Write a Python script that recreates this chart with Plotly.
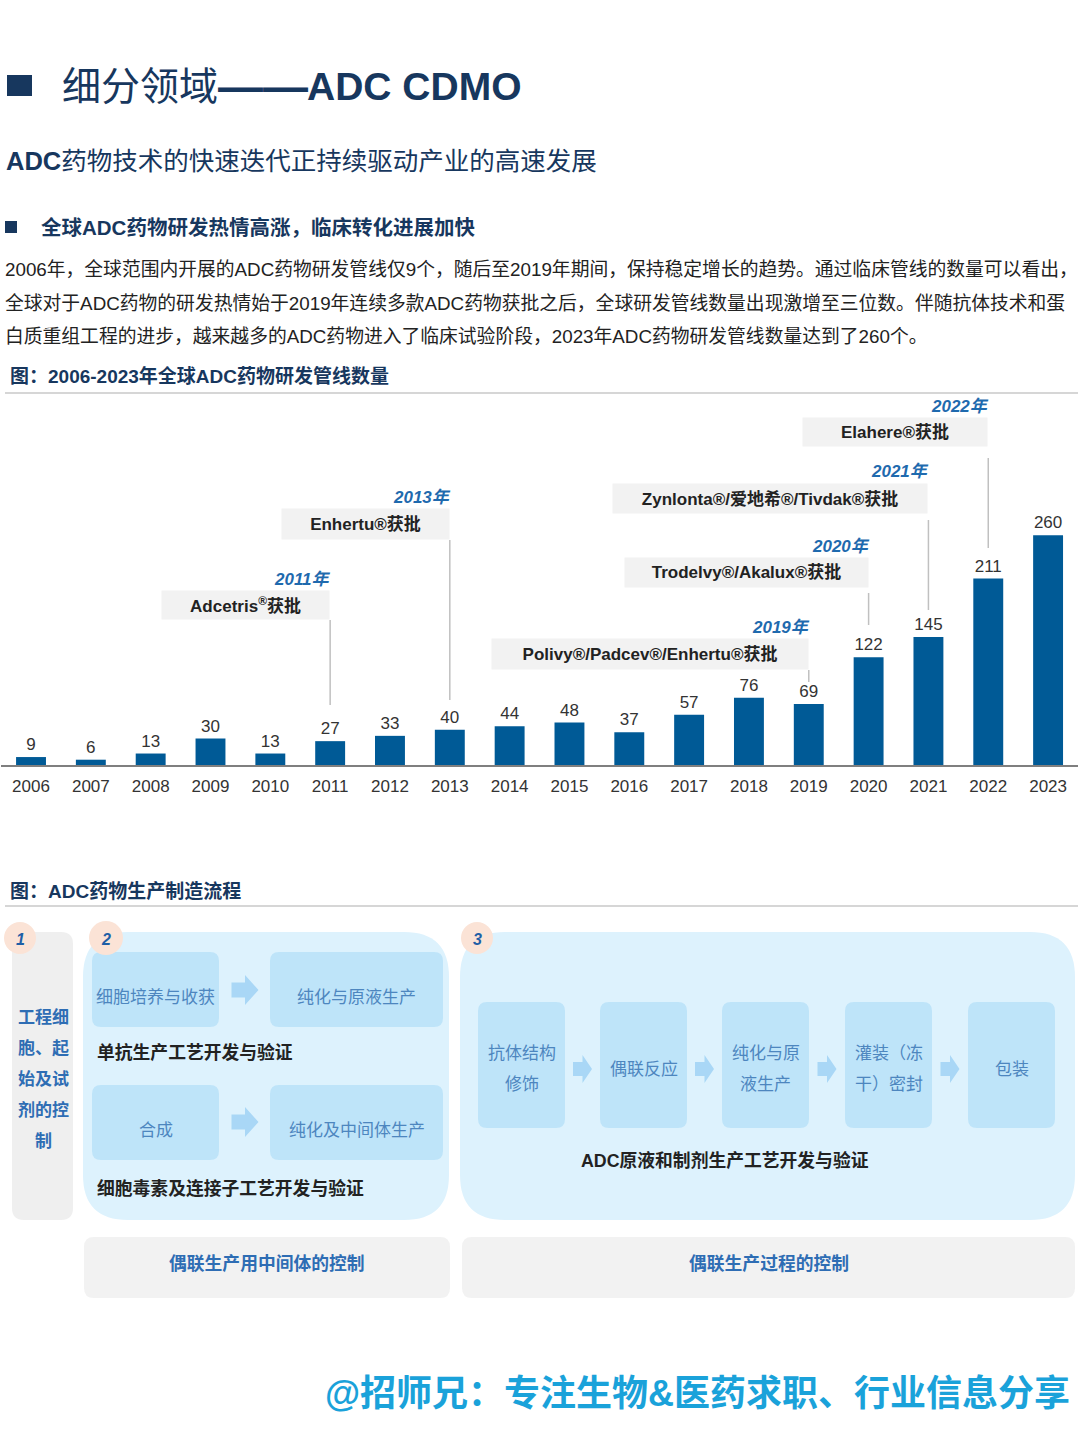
import plotly.graph_objects as go

W, H = 1080, 1440
FONT = "Liberation Sans, Noto Sans CJK SC, sans-serif"

# ---------------- data ----------------
years = ["2006", "2007", "2008", "2009", "2010", "2011", "2012", "2013", "2014",
         "2015", "2016", "2017", "2018", "2019", "2020", "2021", "2022", "2023"]
counts = [9, 6, 13, 30, 13, 27, 33, 40, 44, 48, 37, 57, 76, 69, 122, 145, 211, 260]

callout_years = ["2011", "2013", "2019", "2020", "2021", "2022"]
callout_texts = ["Adcetris<sup>®</sup>获批", "Enhertu®获批", "Polivy®/Padcev®/Enhertu®获批",
                 "Trodelvy®/Akalux®获批", "Zynlonta®/爱地希®/Tivdak®获批", "Elahere®获批"]

para_lines = [
    "2006年，全球范围内开展的ADC药物研发管线仅9个，随后至2019年期间，保持稳定增长的趋势。通过临床管线的数量可以看出，",
    "全球对于ADC药物的研发热情始于2019年连续多款ADC药物获批之后，全球研发管线数量出现激增至三位数。伴随抗体技术和蛋",
    "白质重组工程的进步，越来越多的ADC药物进入了临床试验阶段，2023年ADC药物研发管线数量达到了260个。",
]

stage1_lines = ["工程细", "胞、起", "始及试", "剂的控", "制"]
stage2_top = ["细胞培养与收获", "纯化与原液生产"]
stage2_top_caption = "单抗生产工艺开发与验证"
stage2_bottom = ["合成", "纯化及中间体生产"]
stage2_bottom_caption = "细胞毒素及连接子工艺开发与验证"
stage3_steps = [["抗体结构", "修饰"], ["偶联反应"], ["纯化与原", "液生产"], ["灌装（冻", "干）密封"], ["包装"]]
stage3_caption = "ADC原液和制剂生产工艺开发与验证"
control_texts = ["偶联生产用中间体的控制", "偶联生产过程的控制"]


# ---------------- helpers ----------------
def px(x):
    return x / W


def py(y):
    return 1 - y / H


shapes = []
annos = []


def text(x, y, s, size=17, color="#222", xanchor="left", yanchor="middle", **kw):
    annos.append(dict(x=px(x), y=py(y), xref="paper", yref="paper", text=s, showarrow=False,
                      xanchor=xanchor, yanchor=yanchor,
                      font=dict(family=FONT, size=size, color=color), **kw))


def pt(x, y):
    return f"{px(x):.5f},{py(y):.5f}"


def rrect(x0, y0, x1, y1, r, fill):
    p = (f"M {pt(x0 + r, y0)} L {pt(x1 - r, y0)} Q {pt(x1, y0)} {pt(x1, y0 + r)} "
         f"L {pt(x1, y1 - r)} Q {pt(x1, y1)} {pt(x1 - r, y1)} L {pt(x0 + r, y1)} "
         f"Q {pt(x0, y1)} {pt(x0, y1 - r)} L {pt(x0, y0 + r)} Q {pt(x0, y0)} {pt(x0 + r, y0)} Z")
    shapes.append(dict(type="path", xref="paper", yref="paper", path=p,
                       fillcolor=fill, line=dict(width=0), layer="below"))


def rect(x0, y0, x1, y1, fill):
    shapes.append(dict(type="rect", xref="paper", yref="paper", x0=px(x0), x1=px(x1),
                       y0=py(y1), y1=py(y0), fillcolor=fill, line=dict(width=0)))


def hline(x0, x1, y, color="#C8C8C8", width=1.5):
    shapes.append(dict(type="line", xref="paper", yref="paper", x0=px(x0), x1=px(x1),
                       y0=py(y), y1=py(y), line=dict(color=color, width=width)))


def arrow(cx, cy, w, h, fill="#A9D7F6"):
    x0, xm, x1 = cx - w / 2, cx, cx + w / 2
    p = (f"M {pt(x0, cy - h / 4)} L {pt(xm, cy - h / 4)} L {pt(xm, cy - h / 2)} L {pt(x1, cy)} "
         f"L {pt(xm, cy + h / 2)} L {pt(xm, cy + h / 4)} L {pt(x0, cy + h / 4)} Z")
    shapes.append(dict(type="path", xref="paper", yref="paper", path=p,
                       fillcolor=fill, line=dict(width=0)))


def circle(cx, cy, r, label):
    shapes.append(dict(type="circle", xref="paper", yref="paper", x0=px(cx - r), x1=px(cx + r),
                       y0=py(cy + r), y1=py(cy - r), fillcolor="#FBE3D6", line=dict(width=0)))
    text(cx, cy + 1, f"<b><i>{label}</i></b>", size=16, color="#1F5FA6", xanchor="center")


# ---------------- header texts ----------------
rect(7, 75, 32, 96, "#17375E")
text(60, 86, "细分领域", size=39, color="#17375E")
text(216, 86, "<b>——</b>", size=45, color="#17375E")
text(523, 86, "<b>ADC CDMO</b>", size=39, color="#17375E", xanchor="right")
text(4, 161, "<b>ADC</b>药物技术的快速迭代正持续驱动产业的高速发展", size=25.5, color="#17375E")
rect(5, 221, 17, 233, "#17375E")
text(39, 227, "<b>全球ADC药物研发热情高涨，临床转化进展加快</b>", size=20.5, color="#17375E")
for i, line in enumerate(para_lines):
    text(3, 269 + 34 * i, line, size=18.8, color="#222")
text(8, 376, "<b>图：2006-2023年全球ADC药物研发管线数量</b>", size=19, color="#17375E")
hline(5, 1078, 393)

# ---------------- bar chart ----------------
fig = go.Figure(go.Bar(
    x=years, y=counts, width=0.5, marker=dict(color="#005A96", line=dict(width=0)),
    text=counts, textposition="outside", cliponaxis=False,
    textfont=dict(family=FONT, size=17, color="#333"), hoverinfo="skip"))

# callouts (box layout positions in page pixels)
box_top = [590, 508, 638, 557, 483, 417]
box_w = [167, 167, 316, 243, 314, 184]
box_h = [28, 30, 30, 29, 29, 28]
line_y = [(620, 705), (540, 700), (670, 682), (593, 625), (520, 610), (458, 548)]
for yr, label, bt, bw, bh, (l0, l1) in zip(callout_years, callout_texts, box_top, box_w, box_h, line_y):
    idx = years.index(yr)
    annos.append(dict(x=idx, y=py(bt), xref="x", yref="paper", xanchor="right", yanchor="top",
                      text=f"<b>{label}</b>", showarrow=False, width=bw, height=bh, bgcolor="#F2F2F2",
                      borderpad=0, align="center", valign="middle",
                      font=dict(family=FONT, size=17, color="#222")))
    annos.append(dict(x=idx, y=py(bt - 11), xref="x", yref="paper", xanchor="right", yanchor="middle",
                      text=f"<b><i>{yr}年</i></b>", showarrow=False, xshift=3,
                      font=dict(family=FONT, size=17, color="#1F6AAE")))
    shapes.append(dict(type="line", xref="x", yref="paper", x0=idx, x1=idx,
                       y0=py(l1), y1=py(l0), line=dict(color="#C0C0C0", width=1.5)))

# ---------------- flow diagram ----------------
text(8, 891, "<b>图：ADC药物生产制造流程</b>", size=19, color="#17375E")
hline(5, 1078, 906)

# stage 1
rrect(12, 932, 73, 1220, 12, "#EFEFEF")
for i, s in enumerate(stage1_lines):
    text(43, 1017 + 31 * i, f"<b>{s}</b>", size=17, color="#2E6DB4", xanchor="center")
circle(20, 938, 16, "1")

# stage 2
rrect(83, 932, 449, 1220, 45, "#DDF2FD")
boxes2 = [(92, 219), (270, 443)]
for (x0, x1), s in zip(boxes2, stage2_top):
    rrect(x0, 952, x1, 1027, 9, "#BEE4F9")
    text((x0 + x1) / 2, 997, s, size=17, color="#4D86BF", xanchor="center")
arrow(245, 990, 27, 30)
text(95, 1052, f"<b>{stage2_top_caption}</b>", size=17.8, color="#222")
for (x0, x1), s in zip(boxes2, stage2_bottom):
    rrect(x0, 1085, x1, 1160, 9, "#BEE4F9")
    text((x0 + x1) / 2, 1130, s, size=17, color="#4D86BF", xanchor="center")
arrow(245, 1122, 27, 30)
text(95, 1188, f"<b>{stage2_bottom_caption}</b>", size=17.8, color="#222")
circle(106, 938, 17, "2")

# stage 3
rrect(460, 932, 1075, 1220, 45, "#DDF2FD")
boxes3 = [(478, 565), (600, 687), (722, 809), (845, 932), (968, 1055)]
for (x0, x1), lines in zip(boxes3, stage3_steps):
    rrect(x0, 1002, x1, 1128, 9, "#BEE4F9")
    cx = (x0 + x1) / 2
    if len(lines) == 1:
        text(cx, 1069, lines[0], size=17, color="#4D86BF", xanchor="center")
    else:
        for j, s in enumerate(lines):
            text(cx, 1053 + 31 * j, s, size=17, color="#4D86BF", xanchor="center")
for (a0, a1), (b0, b1) in zip(boxes3[:-1], boxes3[1:]):
    arrow((a1 + b0) / 2, 1069, 19, 28)
text(725, 1160, f"<b>{stage3_caption}</b>", size=17.8, color="#222", xanchor="center")
circle(477, 938, 16, "3")

# control boxes
for (x0, x1), s in zip([(84, 450), (462, 1075)], control_texts):
    rrect(x0, 1237, x1, 1298, 10, "#F2F2F2")
    text((x0 + x1) / 2, 1264, f"<b>{s}</b>", size=17.8, color="#2E6DB4", xanchor="center")

# watermark
text(1072, 1393, "<b>@招师兄：专注生物&医药求职、行业信息分享</b>", size=36, color="#1AA2DA",
     xanchor="right")

fig.update_layout(
    width=W, height=H, autosize=False,
    margin=dict(l=0, r=0, t=0, b=0),
    paper_bgcolor="white", plot_bgcolor="white",
    showlegend=False,
    font=dict(family=FONT),
    xaxis=dict(type="category", domain=[1.1 / W, 1078 / W], range=[-0.5, 17.5],
               showline=True, linecolor="#7F7F7F", linewidth=2, ticks="",
               showgrid=False, zeroline=False, fixedrange=True, ticklabelstandoff=5,
               tickfont=dict(family=FONT, size=17, color="#333")),
    yaxis=dict(domain=[py(765), py(394)], range=[0, 420], visible=False, fixedrange=True),
    shapes=shapes, annotations=annos,
)

fig.write_html("out.html")
